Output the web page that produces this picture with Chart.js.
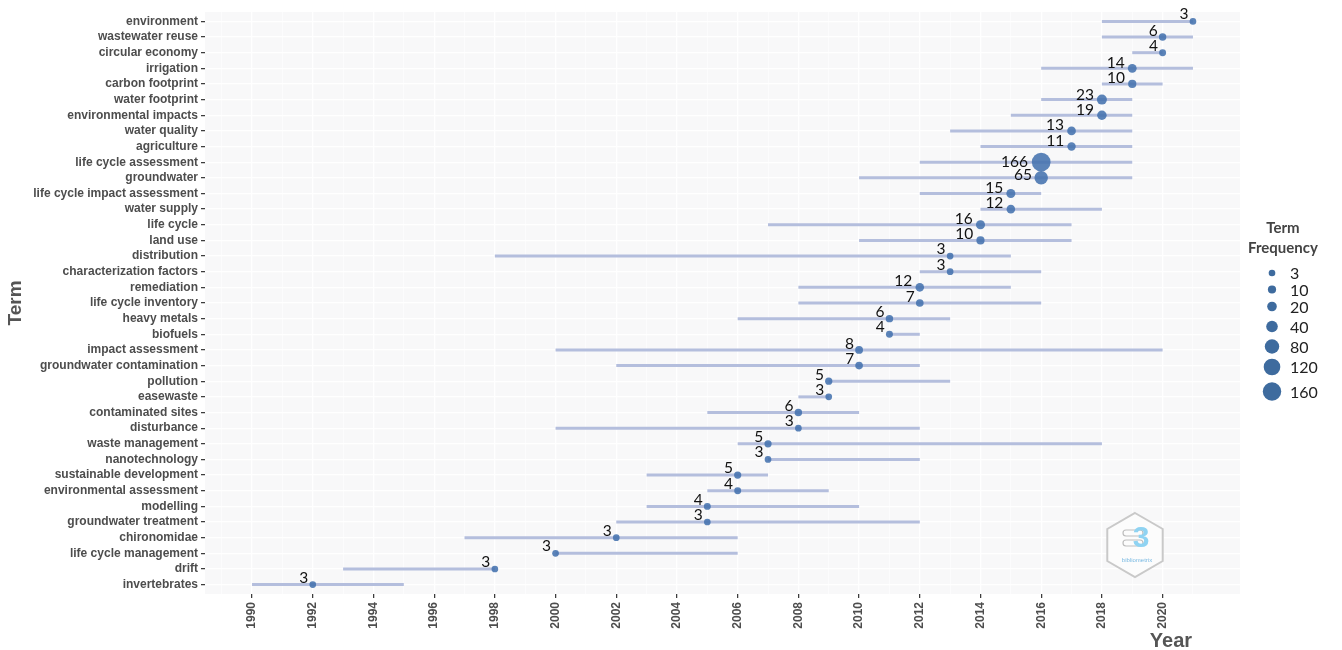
<!DOCTYPE html>
<html>
<head>
<meta charset="utf-8">
<title>Trend topics</title>
<script src="https://cdn.jsdelivr.net/npm/chart.js@4.4.1/dist/chart.umd.min.js"></script>
<style>
  html, body { margin: 0; padding: 0; background: #ffffff; }
  #wrap { width: 1342px; height: 650px; }
</style>
</head>
<body>
<div id="wrap"><canvas id="chart" width="1342" height="650"></canvas></div>
<script>
// Terms, top row first
const terms = [
  'environment', 'wastewater reuse', 'circular economy', 'irrigation',
  'carbon footprint', 'water footprint', 'environmental impacts', 'water quality',
  'agriculture', 'life cycle assessment', 'groundwater', 'life cycle impact assessment',
  'water supply', 'life cycle', 'land use', 'distribution',
  'characterization factors', 'remediation', 'life cycle inventory', 'heavy metals',
  'biofuels', 'impact assessment', 'groundwater contamination', 'pollution',
  'easewaste', 'contaminated sites', 'disturbance', 'waste management',
  'nanotechnology', 'sustainable development', 'environmental assessment', 'modelling',
  'groundwater treatment', 'chironomidae', 'life cycle management', 'drift',
  'invertebrates'
];

// Year span of each term (segment start / end) and its median year (point)
const yearStart = [
  2018, 2018, 2019, 2016, 2018, 2016, 2015, 2013, 2014, 2012, 2010, 2012,
  2014, 2007, 2010, 1998, 2012, 2008, 2008, 2006, 2011, 2000, 2002, 2009,
  2008, 2005, 2000, 2006, 2007, 2003, 2005, 2003, 2002, 1997, 2000, 1993,
  1990
];
const yearMedian = [
  2021, 2020, 2020, 2019, 2019, 2018, 2018, 2017, 2017, 2016, 2016, 2015,
  2015, 2014, 2014, 2013, 2013, 2012, 2012, 2011, 2011, 2010, 2010, 2009,
  2009, 2008, 2008, 2007, 2007, 2006, 2006, 2005, 2005, 2002, 2000, 1998,
  1992
];
const yearEnd = [
  2021, 2021, 2020, 2021, 2020, 2019, 2019, 2019, 2019, 2019, 2019, 2016,
  2018, 2017, 2017, 2015, 2016, 2015, 2016, 2013, 2012, 2020, 2012, 2013,
  2009, 2010, 2012, 2018, 2012, 2007, 2009, 2010, 2012, 2006, 2006, 1998,
  1995
];
// Term frequency
const termFreq = [
  3, 6, 4, 14, 10, 23, 19, 13, 11, 166, 65, 15,
  12, 16, 10, 3, 3, 12, 7, 6, 4, 8, 7, 5,
  3, 6, 3, 5, 3, 5, 4, 4, 3, 3, 3, 3,
  3
];

// Labelled years on the x axis, and the size key values
const yearTicks = [1990, 1992, 1994, 1996, 1998, 2000, 2002, 2004, 2006, 2008,
                   2010, 2012, 2014, 2016, 2018, 2020];
const legendFreqs = [3, 10, 20, 40, 80, 120, 160];

// Bubble radius grows with the square root of the frequency
function radiusFor(f) { return 2.4 + 0.54 * Math.sqrt(f); }

const SEG_COLOR = 'rgb(180,190,221)';
const POINT_COLOR = 'rgba(68,114,174,0.88)';
const KEY_COLOR = 'rgb(62,107,158)';
const AXIS_TEXT = '#4d4d4d';

const segmentSets = terms.map((t, i) => ({
  type: 'line',
  label: t,
  data: [{ x: yearStart[i], y: i }, { x: yearEnd[i], y: i }],
  borderColor: SEG_COLOR,
  borderWidth: 3,
  pointRadius: 0,
  borderCapStyle: 'butt',
  fill: false
}));

const pointSet = {
  type: 'bubble',
  label: 'Term Frequency',
  data: terms.map((t, i) => ({ x: yearMedian[i], y: i, r: radiusFor(termFreq[i]) })),
  backgroundColor: POINT_COLOR,
  borderWidth: 0
};

// Panel background
const panelBg = {
  id: 'panelBg',
  beforeDraw(chart) {
    const { ctx, chartArea: a } = chart;
    ctx.save();
    ctx.fillStyle = '#f8f8f9';
    ctx.fillRect(a.left, a.top, a.right - a.left, a.bottom - a.top);
    ctx.restore();
  }
};

// Hexagon badge in the lower right of the panel
const badge = {
  id: 'badge',
  beforeDatasetsDraw(chart) {
    const ctx = chart.ctx;
    const cx = 1135, cy = 545, R = 32;
    ctx.save();
    ctx.beginPath();
    for (let k = 0; k < 6; k++) {
      const ang = (-90 + 60 * k) * Math.PI / 180;
      const px = cx + R * Math.cos(ang), py = cy + R * Math.sin(ang);
      if (k === 0) ctx.moveTo(px, py); else ctx.lineTo(px, py);
    }
    ctx.closePath();
    ctx.fillStyle = '#fcfcfc';
    ctx.fill();
    ctx.strokeStyle = '#c9c9c9';
    ctx.lineWidth = 2;
    ctx.stroke();
    ctx.strokeStyle = '#bdbdbd';
    ctx.lineWidth = 1.2;
    [[1123, 530], [1123, 540]].forEach(([x, y]) => {
      ctx.beginPath();
      ctx.moveTo(x + 3, y); ctx.lineTo(x + 17, y);
      ctx.arc(x + 17, y + 3, 3, -Math.PI / 2, Math.PI / 2);
      ctx.lineTo(x + 3, y + 6);
      ctx.arc(x + 3, y + 3, 3, Math.PI / 2, Math.PI * 1.5);
      ctx.stroke();
    });
    ctx.fillStyle = '#8fd3f2';
    ctx.font = 'bold 30px "Liberation Sans"';
    ctx.textAlign = 'center';
    ctx.textBaseline = 'middle';
    ctx.fillText('3', 1141, 539);
    ctx.font = '6px "Liberation Sans"';
    ctx.fillStyle = '#79b9e2';
    ctx.fillText('bibliometrix', 1137, 560);
    ctx.restore();
  }
};

// Frequency next to each point
const freqLabels = {
  id: 'freqLabels',
  afterDatasetsDraw(chart) {
    const { ctx, scales: { x, y } } = chart;
    ctx.save();
    ctx.font = '15.5px Lato';
    ctx.fillStyle = '#111111';
    ctx.textAlign = 'right';
    ctx.textBaseline = 'alphabetic';
    terms.forEach((t, i) => {
      const px = x.getPixelForValue(yearMedian[i]);
      const py = y.getPixelForValue(i);
      const r = radiusFor(termFreq[i]);
      const txt = String(termFreq[i]);
      const w = ctx.measureText(txt).width;
      ctx.fillText(txt, px - 0.25 * w - 0.7 * r, py - 2 + 1.15 * (r - 3.3));
    });
    ctx.restore();
  }
};

// Axis titles and the size key
const extras = {
  id: 'extras',
  afterDraw(chart) {
    const ctx = chart.ctx;
    ctx.save();
    ctx.fillStyle = '#555555';
    ctx.font = 'bold 19px "Liberation Sans"';
    ctx.textAlign = 'center';
    ctx.textBaseline = 'middle';
    ctx.translate(16, 303);
    ctx.rotate(-Math.PI / 2);
    ctx.fillText('Term', 0, 0);
    ctx.restore();

    ctx.save();
    ctx.fillStyle = '#555555';
    ctx.font = 'bold 20px "Liberation Sans"';
    ctx.textAlign = 'center';
    ctx.textBaseline = 'middle';
    ctx.fillText('Year', 1171, 641);

    ctx.fillStyle = '#444444';
    ctx.font = 'bold 15px Lato';
    ctx.fillText('Term', 1283, 228);
    ctx.fillText('Frequency', 1283, 248);

    const keyY = [273, 289.5, 306.5, 326.5, 346.5, 367, 391.5];
    ctx.font = '16px Lato';
    ctx.textAlign = 'left';
    legendFreqs.forEach((f, k) => {
      ctx.beginPath();
      ctx.arc(1272, keyY[k], radiusFor(f), 0, Math.PI * 2);
      ctx.fillStyle = KEY_COLOR;
      ctx.fill();
      ctx.fillStyle = '#222222';
      ctx.fillText(String(f), 1290, keyY[k] + 1);
    });
    ctx.restore();
  }
};

const isMajor = v => yearTicks.includes(v);

new Chart(document.getElementById('chart'), {
  data: { datasets: [pointSet, ...segmentSets] },
  options: {
    responsive: false,
    animation: false,
    events: [],
    layout: { padding: { left: 0, top: 12, right: 102, bottom: 0 } },
    plugins: { legend: { display: false }, tooltip: { enabled: false } },
    scales: {
      x: {
        type: 'linear',
        min: 1988.45,
        max: 2022.55,
        afterBuildTicks(scale) {
          const t = [];
          for (let v = 1989; v <= 2021; v++) t.push({ value: v });
          scale.ticks = t;
        },
        afterFit(scale) { scale.height = 56; },
        border: { display: false },
        grid: {
          color: '#ffffff',
          lineWidth: ctx => (ctx.tick && isMajor(ctx.tick.value)) ? 1.3 : 0.6,
          tickColor: ctx => (ctx.tick && isMajor(ctx.tick.value)) ? '#333333' : 'rgba(0,0,0,0)',
          tickLength: 4,
          tickWidth: 1.2
        },
        ticks: {
          autoSkip: false,
          minRotation: 90,
          maxRotation: 90,
          padding: 4,
          color: AXIS_TEXT,
          font: { family: '"Liberation Sans"', size: 12, weight: 'bold' },
          callback: v => isMajor(v) ? String(v) : ''
        }
      },
      y: {
        type: 'linear',
        reverse: true,
        min: -0.6,
        max: terms.length - 1 + 0.6,
        afterBuildTicks(scale) {
          scale.ticks = terms.map((t, i) => ({ value: i }));
        },
        afterFit(scale) { scale.width = 205; },
        border: { display: false },
        grid: {
          color: '#ffffff',
          lineWidth: 1.3,
          tickColor: '#333333',
          tickLength: 4,
          tickWidth: 1.2
        },
        ticks: {
          autoSkip: false,
          padding: 3,
          color: AXIS_TEXT,
          font: { family: '"Liberation Sans"', size: 12, weight: 'bold' },
          callback: v => terms[v]
        }
      }
    }
  },
  plugins: [panelBg, badge, freqLabels, extras]
});
</script>
</body>
</html>
